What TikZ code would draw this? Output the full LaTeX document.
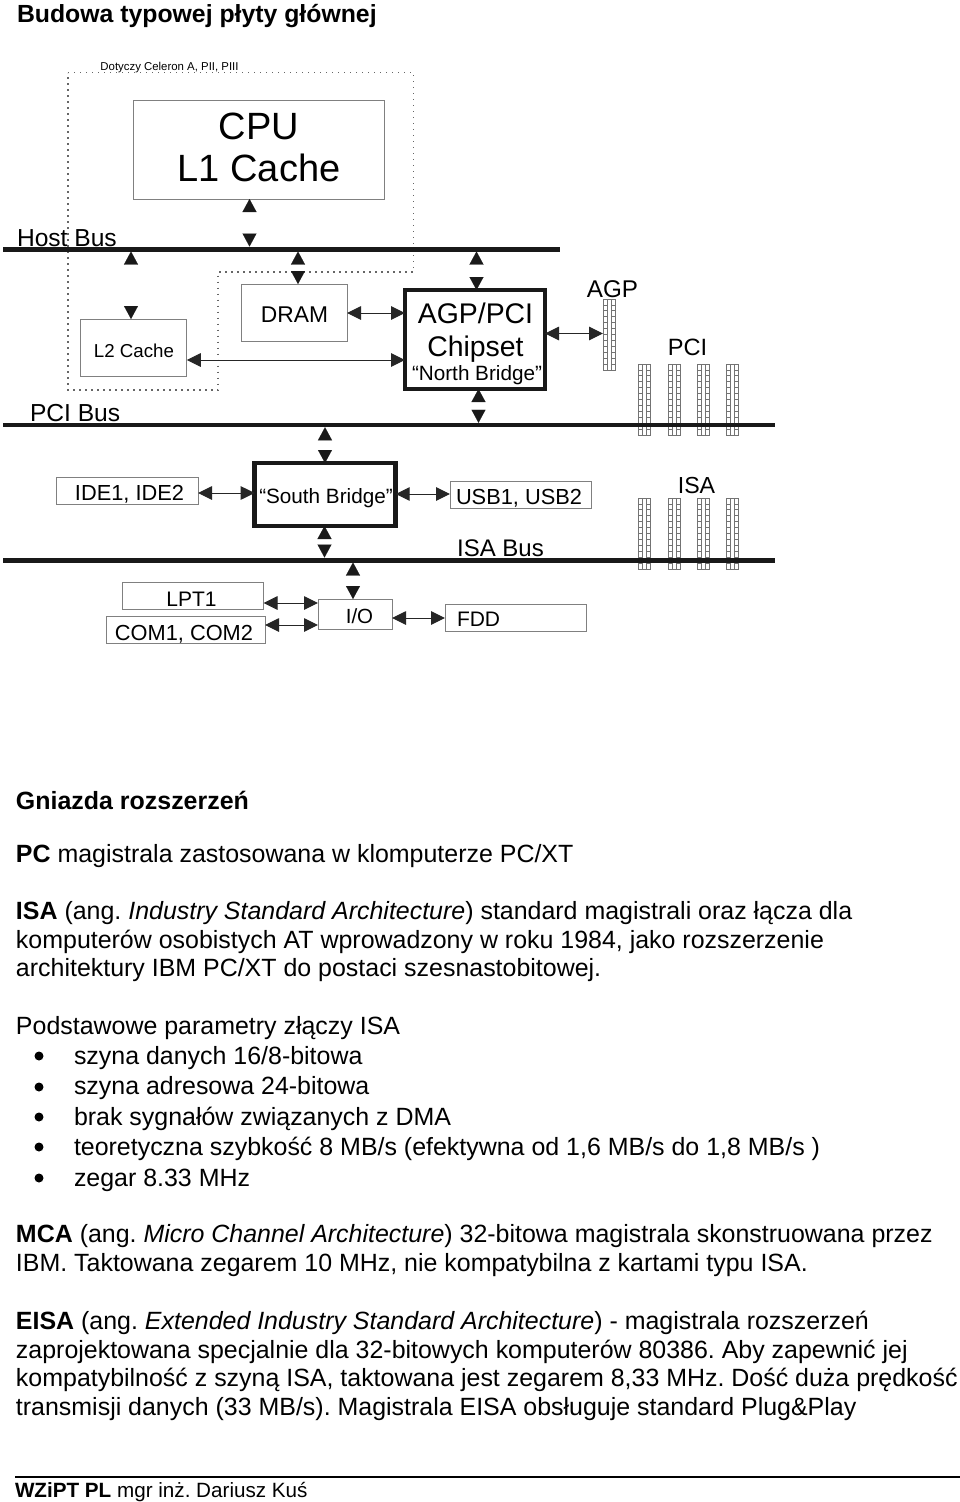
\documentclass[tikz,border=0pt]{standalone}
\usepackage{fontspec}
\setmainfont{Liberation Sans}
\frenchspacing
\usetikzlibrary{arrows.meta}
\tikzset{
  fs/.style={font=\fontsize{#1}{#1}\selectfont},
  lab/.style={anchor=base,inner sep=0pt,outer sep=0pt,text=black},
  line/.style={anchor=base west,inner sep=0pt,outer sep=0pt,text=black,fs=24.95},
  box/.style={draw=black!50,line width=1pt,fill=white,inner sep=0pt,outer sep=0pt},
  thickbox/.style={draw=black!90,line width=4.5pt,fill=white,inner sep=0pt,outer sep=0pt},
  bus/.style={fill=black!90,inner sep=0pt,outer sep=0pt},
  bulletdot/.style={circle,fill=black,inner sep=0pt,outer sep=0pt,minimum size=9pt},
  dbl/.style={line width=1pt,draw=black!85,{Triangle[length=14pt,width=13.5pt]}-{Triangle[length=14pt,width=13.5pt]}},
  gapped/.style={line width=0.1pt,draw=white,{Triangle[length=13pt,width=14pt,black!90]}-{Triangle[length=13pt,width=14pt,black!90]}},
  dots/.style={line width=1.2pt,draw=black!60,dash pattern=on 1.2pt off 4.8pt},
  slotline/.style={line width=0.8pt,draw=black!55},
}
\newcommand\slotcol[2]{%
  \draw[slotline] (#1,#2) rectangle ++(12.5,71);
  \draw[slotline] (#1+4.2,#2) -- ++(0,71) (#1+8.3,#2) -- ++(0,71);
  \foreach \i in {1,...,11}{
    \draw[slotline] ({#1},{#2+\i*5.92}) -- ++(4.2,0) ({#1+8.3},{#2+\i*5.92}) -- ++(4.2,0);
  }%
}
\begin{document}
\begin{tikzpicture}[x=1pt,y=-1pt]
\useasboundingbox (0,0) rectangle (960,1502);
\fill[white] (0,0) rectangle (960,1502);

% dotted region
\draw[dots] (68,72.5) -- (413.5,72.5) -- (413.5,272) -- (218,272) -- (218,390) -- (68,390) -- cycle;
\node[lab,fs=11.4] (dot) at (169.5,70) {Dotyczy Celeron A, PII, PIII};

% slots
\slotcol{603}{299}
\foreach \x in {638,668,697,726}{\slotcol{\x}{364}\slotcol{\x}{498}}

% buses
\node[bus,minimum width=557pt,minimum height=5pt] (host) at (281.5,249) {};
\node[bus,minimum width=772pt,minimum height=4.5pt] (pci) at (389,425) {};
\node[bus,minimum width=772pt,minimum height=5pt] (isa) at (389,560) {};

% boxes
\node[box,minimum width=251pt,minimum height=99pt] (cpu) at (258.5,149.5) {};
\node[box,minimum width=106.5pt,minimum height=57pt] (l2) at (133.5,347.5) {};
\node[box,minimum width=106pt,minimum height=57pt] (dram) at (294,312.5) {};
\node[thickbox,minimum width=140pt,minimum height=99pt] (agp) at (475,339.5) {};
\node[thickbox,minimum width=141pt,minimum height=63pt] (sb) at (325.2,494.5) {};
\node[box,minimum width=142pt,minimum height=27pt] (ide) at (127,490.5) {};
\node[box,minimum width=141pt,minimum height=27pt] (usb) at (520.5,494.5) {};
\node[box,minimum width=141pt,minimum height=27pt] (lpt) at (193,595.5) {};
\node[box,minimum width=159pt,minimum height=27pt] (com) at (185.5,629.5) {};
\node[box,minimum width=74pt,minimum height=30pt] (io) at (355,614) {};
\node[box,minimum width=141pt,minimum height=27pt] (fdd) at (515.5,617.5) {};

% box and bus labels
\node[lab,fs=38] (cpuA) at (259,139) {CPU};
\node[lab,fs=38] (cpuB) at (259,181.5) {L1 Cache};
\node[lab,fs=24.6,anchor=base west] (hostL) at (17,246) {Host Bus};
\node[lab,fs=24.6,anchor=base west] (pciL) at (30,421) {PCI Bus};
\node[lab,fs=18.7] (l2L) at (134,357) {L2 Cache};
\node[lab,fs=22.8] (dramL) at (294.5,322) {DRAM};
\node[lab,fs=28.4] (agpA) at (475.5,323) {AGP/PCI};
\node[lab,fs=28.4] (agpB) at (475.5,356) {Chipset};
\node[lab,fs=20.7] (agpC) at (477,380) {“North Bridge”};
\node[lab,fs=24.2] (agpL) at (612.5,297) {AGP};
\node[lab,fs=23.6] (pciS) at (687.5,355) {PCI};
\node[lab,fs=23.2] (isaS) at (696.5,493) {ISA};
\node[lab,fs=24] (isaL) at (500.5,556) {ISA Bus};
\node[lab,fs=21.8] (usbL) at (519,504) {USB1, USB2};
\node[lab,fs=21.8] (ideL) at (129.5,500.5) {IDE1, IDE2};
\node[lab,fs=20.7] (sbL) at (326,503) {“South Bridge”};
\node[lab,fs=21] (lptL) at (191.5,606) {LPT1};
\node[lab,fs=21.8] (comL) at (184,640) {COM1, COM2};
\node[lab,fs=20.5] (ioL) at (359.5,623) {I/O};
\node[lab,fs=21,anchor=base west] (fddL) at (457,626) {FDD};

% connector anchors
\coordinate (xA) at (249.5,0);
\coordinate (xB) at (131,0);
\coordinate (xC) at (298,0);
\coordinate (xD) at (476.5,0);
\coordinate (xE) at (478.5,0);
\coordinate (xF) at (325,0);
\coordinate (xG) at (324.5,0);
\coordinate (xH) at (353,0);
\coordinate (yA) at (0,313);
\coordinate (yB) at (0,360);
\coordinate (yC) at (0,333.5);
\coordinate (yD) at (0,493);
\coordinate (yE) at (0,494);
\coordinate (yF) at (0,603);
\coordinate (yG) at (0,625);
\coordinate (yH) at (0,618);
\coordinate (slotE) at (603,333.5);

% vertical connectors
\draw[gapped] (cpu.south -| xA) -- (host.north -| xA);
\draw[gapped] (host.south -| xB) -- (l2.north -| xB);
\draw[gapped] (host.south -| xC) -- (dram.north -| xC);
\draw[gapped] (host.south -| xD) -- (agp.north -| xD);
\draw[gapped] (agp.south -| xE) -- (pci.north -| xE);
\draw[gapped] (pci.south -| xF) -- (sb.north -| xF);
\draw[gapped] (sb.south -| xG) -- (isa.north -| xG);
\draw[gapped] (isa.south -| xH) -- (io.north -| xH);

% horizontal connectors
\draw[dbl] (dram.east |- yA) -- (agp.west |- yA);
\draw[dbl] (l2.east |- yB) -- (agp.west |- yB);
\draw[dbl] (agp.east |- yC) -- (slotE);
\draw[dbl] (ide.east |- yD) -- (sb.west |- yD);
\draw[dbl] (sb.east |- yE) -- (usb.west |- yE);
\draw[dbl] (lpt.east |- yF) -- (io.west |- yF);
\draw[dbl] (com.east |- yG) -- (io.west |- yG);
\draw[dbl] (io.east |- yH) -- (fdd.west |- yH);

% body text
\node[line,font=\fontsize{24.8}{25}\selectfont\bfseries] (title) at (17,22) {Budowa typowej płyty głównej};
\node[line,font=\fontsize{24.95}{25}\selectfont\bfseries] (gn) at (16,809) {Gniazda rozszerzeń};
\node[line] (l01) at (16,862) {\textbf{PC} magistrala zastosowana w klomputerze PC/XT};
\node[line] (l02) at (16,919) {\textbf{ISA} (ang. \textit{Industry Standard Architecture}) standard magistrali oraz łącza dla};
\node[line] (l03) at (16,948) {komputerów osobistych AT wprowadzony w roku 1984, jako rozszerzenie};
\node[line] (l04) at (16,976) {architektury IBM PC/XT do postaci szesnastobitowej.};
\node[line] (l05) at (16,1034) {Podstawowe parametry złączy ISA};
\foreach \n/\y in {a/1056,b/1087,c/1117,d/1147,e/1178}{
  \node[bulletdot] (bul\n) at (39,\y) {};
}
\node[line] (l06) at (74,1064) {szyna danych 16/8-bitowa};
\node[line] (l07) at (74,1094) {szyna adresowa 24-bitowa};
\node[line] (l08) at (74,1125) {brak sygnałów związanych z DMA};
\node[line] (l09) at (74,1155) {teoretyczna szybkość 8 MB/s (efektywna od 1,6 MB/s do 1,8 MB/s )};
\node[line] (l10) at (74,1186) {zegar 8.33 MHz};
\node[line] (l11) at (16,1242) {\textbf{MCA} (ang. \textit{Micro Channel Architecture}) 32-bitowa magistrala skonstruowana przez};
\node[line] (l12) at (16,1271) {IBM. Taktowana zegarem 10 MHz, nie kompatybilna z kartami typu ISA.};
\node[line] (l13) at (16,1329) {\textbf{EISA} (ang. \textit{Extended Industry Standard Architecture}) - magistrala rozszerzeń};
\node[line] (l14) at (16,1358) {zaprojektowana specjalnie dla 32-bitowych komputerów 80386. Aby zapewnić jej};
\node[line] (l15) at (16,1386) {kompatybilność z szyną ISA, taktowana jest zegarem 8,33 MHz. Dość duża prędkość};
\node[line] (l16) at (16,1415) {transmisji danych (33 MB/s). Magistrala EISA obsługuje standard Plug\&Play};

% footer
\coordinate (fA) at (15,1477);
\coordinate (fB) at (960,1477);
\draw[line width=1.3pt,black] (fA) -- (fB);
\node[line,font=\fontsize{20.65}{21}\selectfont] (foot) at (15,1497) {\textbf{WZiPT PL} mgr inż. Dariusz Kuś};
\end{tikzpicture}
\end{document}
